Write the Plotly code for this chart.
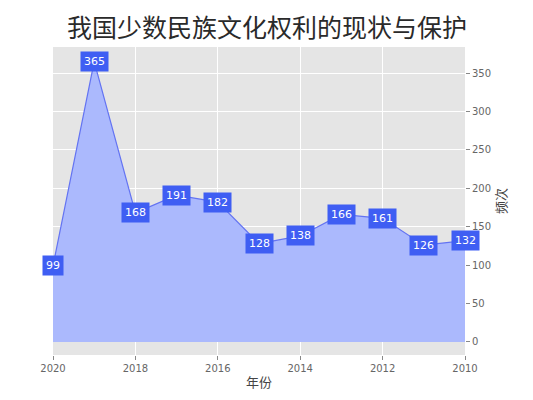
import plotly.graph_objects as go

years = [2010, 2011, 2012, 2013, 2014, 2015, 2016, 2017, 2018, 2019, 2020]
counts = [132, 126, 161, 166, 138, 128, 182, 191, 168, 365, 99]
x_ticks = [2010, 2012, 2014, 2016, 2018, 2020]
y_ticks = [0, 50, 100, 150, 200, 250, 300, 350]
title_text = "我国少数民族文化权利的现状与保护"
x_title = "年份"
y_title = "频次"

fig = go.Figure()
fig.add_trace(go.Scatter(
    x=years, y=counts, mode="lines", fill="tozeroy",
    line=dict(color="#6373f2", width=1.2),
    fillcolor="#abb9fd", showlegend=False, hoverinfo="x+y",
))

for xv, yv in zip(years, counts):
    fig.add_annotation(
        x=xv, y=yv, text=str(yv), showarrow=False,
        font=dict(color="white", size=11, family="DejaVu Sans"),
        bgcolor="#3f5ef3", borderpad=3, xanchor="center", yanchor="middle",
    )

fig.update_layout(
    width=533, height=400,
    margin=dict(l=45, r=76, t=39, b=53),
    paper_bgcolor="white", plot_bgcolor="#e5e5e5",
    title=dict(text=title_text, x=0.486, xanchor="center", y=0.95, yanchor="middle",
               font=dict(size=25, color="#2a2a2a", family="Noto Sans CJK SC")),
    font=dict(family="DejaVu Sans", color="#666666", size=10),
)
fig.update_xaxes(
    range=[2020, 2010], tickvals=x_ticks, ticktext=[str(t) for t in x_ticks],
    showgrid=True, gridcolor="white", gridwidth=1, zeroline=False, automargin=False,
    ticks="outside", ticklen=4, tickcolor="#888888",
    title=dict(text=x_title, font=dict(size=13, family="Noto Sans CJK SC", color="#444444"), standoff=4),
)
fig.update_yaxes(
    side="right", range=[-17, 384], tickvals=y_ticks, automargin=False,
    showgrid=True, gridcolor="white", gridwidth=1, zeroline=False,
    ticks="outside", ticklen=4, tickcolor="#888888",
    title=dict(text=y_title, font=dict(size=13, family="Noto Sans CJK SC", color="#444444"), standoff=6),
)

fig.write_html("out.html")
